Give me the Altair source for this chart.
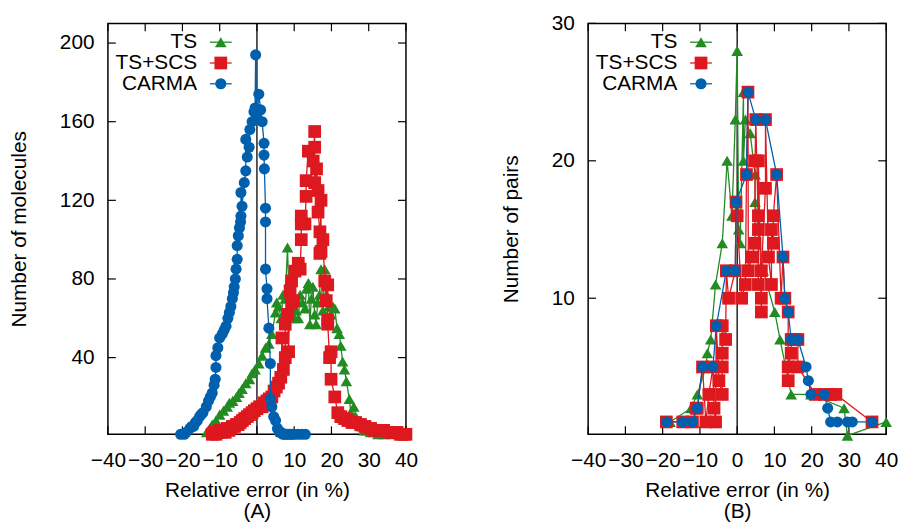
import altair as alt
import pandas as pd

FONT = "Liberation Sans"
FS = 21
SERIES = ["TS", "TS+SCS", "CARMA"]
COLORS = ["#228b22", "#dd181f", "#0060ad"]
SHAPES = ["triangle-up", "square", "circle"]
SIZES = [137, 165, 125]

X_TICKS = [-40, -30, -20, -10, 0, 10, 20, 30, 40]
A_Y_TICKS = [40, 80, 120, 160, 200]
B_Y_TICKS = [10, 20, 30]

# ---------------- Panel A (molecules) ----------------
A_TS_X = [-13.5, -12.7, -12, -11, -10, -9, -8, -7.4, -6.5, -5.5, -4.8, -4, -3, -2, -1.3, -0.5, 0.5, 1.4,
          2.3, 3.2, 4, 5, 5.3, 5.8, 6.5, 7, 7.6, 8.2, 8.7, 9.3, 10, 10.5, 11.1, 11.6, 12.2, 12.9, 13.3,
          13.8, 14.2, 14.6, 15, 15.5, 15.9, 16.3, 16.8, 17.2, 17.7, 18.2, 18.7, 19.3, 19.8, 20.4, 20.9,
          21.5, 22.1, 22.5, 23, 23.5, 24, 24.8, 25.2, 26, 26.5, 27.2, 28, 28.8, 29.5, 30.5, 31.5, 32.5, 34, 36]
A_TS_Y = [2, 4, 6, 8, 11, 13, 15, 17, 18, 20, 22, 24, 27, 29, 32, 34, 37, 41, 45, 47, 52, 63, 68, 66, 60,
          72, 70, 96, 66, 72, 60, 64, 60, 72, 68, 65, 75, 78, 57, 70, 76, 62, 57, 68, 72, 85, 64, 85, 72,
          66, 62, 66, 65, 55, 52, 46, 38, 34, 28, 19, 12, 15, 10, 8, 5, 3, 3, 2, 2, 1, 1, 1]

A_SCS_X = [-12, -11.5, -11, -10.5, -10, -9.5, -9, -8.5, -8, -7.5, -7, -6.6, -6, -5.5, -5, -4.5, -3.9, -3.3,
           -2.6, -2, -1.3, -0.7, 0, 0.7, 1.4, 2, 2.7, 3.3, 4, 4.6, 5.2, 5.8, 6.4, 6.7, 7.1, 7.6, 7.6, 8.3,
           8.5, 8.9, 9.3, 9.3, 9.8, 10.2, 11.1, 11.6, 11.9, 11.9, 11.9, 12.9, 13.2, 13.2, 13.8, 15.1, 15.5,
           15.5, 15.5, 16, 16.4, 16.4, 16.9, 16.9, 17.2, 17.2, 17.7, 18.2, 18.6, 19, 19, 19, 19.5, 19.9,
           19.9, 20.9, 21.7, 22.5, 23.5, 24.4, 25.5, 26.5, 27.8, 29, 30.5, 31.5, 33, 34, 35.5, 36.5, 37.6,
           38.5, 39.3, 40]
A_SCS_Y = [1, 2, 1, 2, 3, 2, 3, 2, 4, 3, 4, 5, 5, 6, 6, 7, 8, 9, 10, 11, 12, 13, 14, 15, 15, 17, 18, 19,
           20, 23, 25, 27, 30, 50, 34, 40, 57, 62, 43, 74, 68, 79, 69, 84, 88, 85, 100, 108, 112, 108, 122,
           130, 145, 140, 155, 147, 129, 136, 125, 114, 104, 93, 120, 94, 100, 79, 69, 77, 59, 57, 40, 43,
           29, 20, 12, 10, 9, 8, 7, 7, 6, 5, 4, 3, 3, 3, 2, 2, 2, 1, 1, 1]

A_CARMA_X = [-20.5, -19.5, -19, -18, -17.5, -17, -16.5, -16, -15.4, -15, -14.5, -13.6, -13, -12.5, -12,
             -11.5, -11.2, -11, -11, -10.5, -10, -9.3, -8.8, -8.3, -7.8, -7.4, -7, -6.6, -6.3, -6.1, -5.8,
             -5.6, -5.3, -5.3, -5, -4.7, -4.4, -4.3, -4.3, -4, -3.4, -3, -3, -2.6, -2.1, -1.9, -1.3, -0.8,
             -0.5, -0.35, -0.1, 0.2, 0.5, 1, 1.4, 1.9, 1.9, 2, 2.3, 2.3, 2.3, 2.7, 2.7, 3.2, 3.6, 3.6, 4,
             4.5, 5, 5.5, 6, 6.5, 7, 7.5, 8, 8.5, 9, 9.5, 10, 11, 12, 13]
A_CARMA_Y = [1, 1, 2, 4, 5, 5, 7, 8, 10, 11, 12, 15, 18, 20, 22, 26, 29, 35, 41, 45, 50, 52, 54, 56, 60,
             63, 66, 70, 73, 76, 80, 85, 90, 97, 102, 106, 109, 112, 124, 117, 129, 135, 151, 142, 147,
             156, 160, 165, 167, 194, 163, 166, 174, 166, 160, 149, 143, 136, 116, 109, 85, 75, 70, 55, 37,
             19, 15, 10, 8, 4, 2, 2, 1, 1, 1, 1, 1, 1, 1, 1, 1, 1]

# ---------------- Panel B (pairs) ----------------
B_TS_X = [-18, -12.4, -10.7, -8.4, -8, -7.1, -5.8, -4, -2.7, -1.4, -0.5, 0, 0.4, 0.8, 1.7, 1.7, 2.2, 3.5,
          4.8, 4.8, 7, 10.1, 11.5, 14.5, 19.8, 28.7, 29.6, 40]
B_TS_Y = [1, 2, 3, 5, 6, 7, 11, 14, 20, 16, 23, 28, 15, 14, 25, 20, 23, 22, 19, 17, 12, 9, 7, 3, 3, 2, 0, 1]

B_SCS_X = [-19, -14.6, -12, -11, -10.7, -9.3, -8.4, -7.6, -6.5, -6.2, -5.8, -5.6, -4.9, -4, -4, -4, -4,
           -3.1, -2.9, -2.3, -0.5, -0.3, 0, 1.2, 2.2, 2.5, 2.9, 3, 3.9, 4.8, 4.8, 5, 5.7, 5.7, 5.7, 5.7,
           6.5, 6.5, 6.5, 7.6, 7.6, 8.4, 9.2, 9.2, 9.7, 9.7, 10.6, 11.8, 12.3, 12.8, 13.7, 13.7, 13.7,
           14.5, 14.5, 15.4, 16.3, 16.3, 21, 23.4, 25.1, 26.5, 36.2]
B_SCS_Y = [1, 1, 1, 2, 2, 5, 1, 3, 5, 2, 1, 8, 4, 3, 5, 6, 8, 7, 12, 10, 12, 17, 16, 10, 11, 19, 25, 12,
           13, 14, 20, 23, 15, 11, 16, 20, 9, 10, 12, 18, 23, 13, 11, 15, 14, 16, 19, 10, 13, 10, 9, 4, 5,
           6, 7, 7, 7, 5, 3, 3, 3, 3, 1]

B_CARMA_X = [-18.9, -14.6, -12, -10.7, -9.3, -6.5, -5.6, -2.9, -0.5, -0.3, 2.5, 2.9, 5, 7.6, 10.6, 12.3,
             12.8, 13.7, 14.5, 16.3, 18.5, 19.1, 19.8, 23.4, 24.3, 25.1, 26.9, 29.6, 30.9, 36.2]
B_CARMA_Y = [1, 1, 1, 2, 5, 5, 8, 12, 12, 17, 19, 25, 23, 23, 19, 13, 10, 9, 7, 7, 5, 4, 3, 3, 2, 1, 1, 1,
             1, 1]

W, H = 301, 415
TICK = 8
LEG_X_TEXT, LEG_X1, LEG_X2, LEG_XM = 90, 103, 125, 114
LEG_TOP, LEG_STEP = 19, 21


def panel(series, ydomain, yticks, ytitle, tag):
    xs = alt.Scale(domain=[-40, 40], nice=False, zero=False)
    ys = alt.Scale(domain=ydomain, nice=False, zero=False)
    xaxis = alt.Axis(values=X_TICKS, ticks=False, domain=False, grid=False,
                     labelFont=FONT, labelFontSize=FS, labelColor="black", labelPadding=16,
                     labelOverlap=False, labelFlush=False,
                     title=["Relative error (in %)", tag], titleFont=FONT, titleFontSize=FS,
                     titleFontWeight="normal", titleColor="black", titlePadding=9,
                     titleLineHeight=21.5)
    yaxis = alt.Axis(values=yticks, ticks=False, domain=False, grid=False,
                     labelFont=FONT, labelFontSize=FS, labelColor="black", labelPadding=14,
                     labelOverlap=False,
                     title=ytitle, titleFont=FONT, titleFontSize=FS, titleFontWeight="normal",
                     titleColor="black", titlePadding=30)

    def X(f):
        return alt.X(f"{f}:Q", scale=xs, axis=xaxis)

    def Y(f):
        return alt.Y(f"{f}:Q", scale=ys, axis=yaxis)

    layers = []
    layers.append(alt.Chart(pd.DataFrame({"x": [0]})).mark_rule(color="black", strokeWidth=1.3)
                  .encode(x=X("x")))
    ydf = pd.DataFrame({"v": yticks})
    xdf = pd.DataFrame({"v": X_TICKS})
    layers.append(alt.Chart(ydf).mark_rule(color="black", strokeWidth=1.2)
                  .encode(y=Y("v"), x=alt.value(0), x2=alt.value(TICK)))
    layers.append(alt.Chart(ydf).mark_rule(color="black", strokeWidth=1.2)
                  .encode(y=Y("v"), x=alt.value(W - TICK), x2=alt.value(W)))
    layers.append(alt.Chart(xdf).mark_rule(color="black", strokeWidth=1.2)
                  .encode(x=X("v"), y=alt.value(H - TICK), y2=alt.value(H)))
    layers.append(alt.Chart(xdf).mark_rule(color="black", strokeWidth=1.2)
                  .encode(x=X("v"), y=alt.value(0), y2=alt.value(TICK)))

    for (xv, yv), color, shape, size in zip(series, COLORS, SHAPES, SIZES):
        df = pd.DataFrame({"x": xv, "y": yv, "o": list(range(len(xv)))})
        c = alt.Chart(df)
        layers.append(c.mark_line(color=color, strokeWidth=1.3).encode(x=X("x"), y=Y("y"), order="o:Q"))
        layers.append(c.mark_point(shape=shape, filled=True, size=size, color=color, opacity=1)
                      .encode(x=X("x"), y=Y("y")))

    for i, (name, color, shape, size) in enumerate(zip(SERIES, COLORS, SHAPES, SIZES)):
        ldf = pd.DataFrame({"label": [name]})
        ry = LEG_TOP + i * LEG_STEP
        lc = alt.Chart(ldf)
        layers.append(lc.mark_text(align="right", baseline="middle", font=FONT, fontSize=FS, color="black")
                      .encode(text="label:N", x=alt.value(LEG_X_TEXT), y=alt.value(ry)))
        layers.append(lc.mark_rule(color=color, strokeWidth=1.3)
                      .encode(x=alt.value(LEG_X1), x2=alt.value(LEG_X2), y=alt.value(ry)))
        layers.append(lc.mark_point(shape=shape, filled=True, size=size, color=color, opacity=1)
                      .encode(x=alt.value(LEG_XM), y=alt.value(ry)))

    return alt.layer(*layers).properties(width=W, height=H)


chart_a = panel([(A_TS_X, A_TS_Y), (A_SCS_X, A_SCS_Y), (A_CARMA_X, A_CARMA_Y)],
                [1, 210], A_Y_TICKS, "Number of molecules", "(A)")
chart_b = panel([(B_TS_X, B_TS_Y), (B_SCS_X, B_SCS_Y), (B_CARMA_X, B_CARMA_Y)],
                [0.1, 30], B_Y_TICKS, "Number of pairs", "(B)")

chart = (alt.hconcat(chart_a, chart_b, spacing=184, bounds="flush")
         .properties(padding={"left": 8, "top": 9, "right": 5, "bottom": 0}, background="white")
         .configure_view(stroke="black", strokeWidth=1.5))

chart.save("out.html", embed_options={"renderer": "svg", "actions": False})
